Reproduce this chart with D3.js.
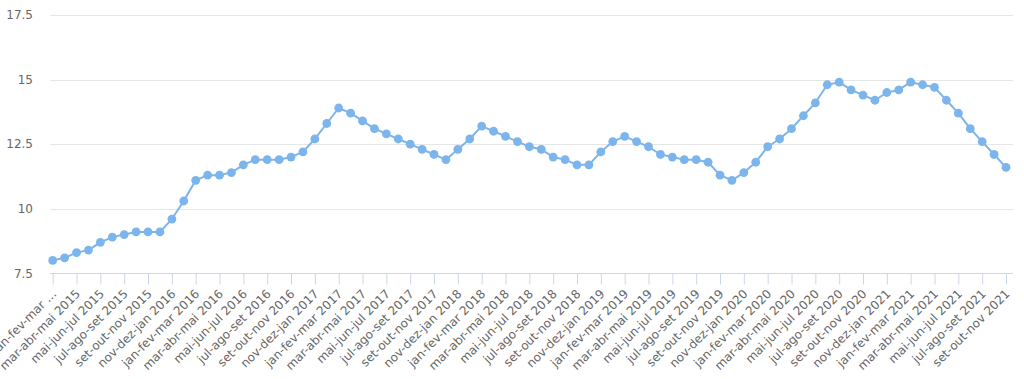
<!DOCTYPE html>
<html>
<head>
<meta charset="utf-8">
<script src="https://cdn.jsdelivr.net/npm/d3@7"></script>
<style>
  html, body { margin: 0; padding: 0; background: #ffffff; }
  svg { display: block; }
  text { font-family: "DejaVu Sans", "Lucida Grande", sans-serif; }
</style>
</head>
<body>
<svg id="chart" width="1024" height="379"></svg>
<script>
// ---- data ----
const categories = [
  "jan-fev-mar 2015","fev-mar-abr 2015","mar-abr-mai 2015","abr-mai-jun 2015","mai-jun-jul 2015","jun-jul-ago 2015",
  "jul-ago-set 2015","ago-set-out 2015","set-out-nov 2015","out-nov-dez 2015","nov-dez-jan 2016","dez-jan-fev 2016",
  "jan-fev-mar 2016","fev-mar-abr 2016","mar-abr-mai 2016","abr-mai-jun 2016","mai-jun-jul 2016","jun-jul-ago 2016",
  "jul-ago-set 2016","ago-set-out 2016","set-out-nov 2016","out-nov-dez 2016","nov-dez-jan 2017","dez-jan-fev 2017",
  "jan-fev-mar 2017","fev-mar-abr 2017","mar-abr-mai 2017","abr-mai-jun 2017","mai-jun-jul 2017","jun-jul-ago 2017",
  "jul-ago-set 2017","ago-set-out 2017","set-out-nov 2017","out-nov-dez 2017","nov-dez-jan 2018","dez-jan-fev 2018",
  "jan-fev-mar 2018","fev-mar-abr 2018","mar-abr-mai 2018","abr-mai-jun 2018","mai-jun-jul 2018","jun-jul-ago 2018",
  "jul-ago-set 2018","ago-set-out 2018","set-out-nov 2018","out-nov-dez 2018","nov-dez-jan 2019","dez-jan-fev 2019",
  "jan-fev-mar 2019","fev-mar-abr 2019","mar-abr-mai 2019","abr-mai-jun 2019","mai-jun-jul 2019","jun-jul-ago 2019",
  "jul-ago-set 2019","ago-set-out 2019","set-out-nov 2019","out-nov-dez 2019","nov-dez-jan 2020","dez-jan-fev 2020",
  "jan-fev-mar 2020","fev-mar-abr 2020","mar-abr-mai 2020","abr-mai-jun 2020","mai-jun-jul 2020","jun-jul-ago 2020",
  "jul-ago-set 2020","ago-set-out 2020","set-out-nov 2020","out-nov-dez 2020","nov-dez-jan 2021","dez-jan-fev 2021",
  "jan-fev-mar 2021","fev-mar-abr 2021","mar-abr-mai 2021","abr-mai-jun 2021","mai-jun-jul 2021","jun-jul-ago 2021",
  "jul-ago-set 2021","ago-set-out 2021","set-out-nov 2021"
];

const rates = [
  8.0, 8.1, 8.3, 8.4, 8.7, 8.9, 9.0, 9.1, 9.1, 9.1, 9.6, 10.3,
  11.1, 11.3, 11.3, 11.4, 11.7, 11.9, 11.9, 11.9, 12.0, 12.2, 12.7, 13.3,
  13.9, 13.7, 13.4, 13.1, 12.9, 12.7, 12.5, 12.3, 12.1, 11.9, 12.3, 12.7,
  13.2, 13.0, 12.8, 12.6, 12.4, 12.3, 12.0, 11.9, 11.7, 11.7, 12.2, 12.6,
  12.8, 12.6, 12.4, 12.1, 12.0, 11.9, 11.9, 11.8, 11.3, 11.1, 11.4, 11.8,
  12.4, 12.7, 13.1, 13.6, 14.1, 14.8, 14.9, 14.6, 14.4, 14.2, 14.5, 14.6,
  14.9, 14.8, 14.7, 14.2, 13.7, 13.1, 12.6, 12.1, 11.6
];

const yTicks = [7.5, 10, 12.5, 15, 17.5];
const yTickLabels = ["7.5", "10", "12.5", "15", "17.5"];
// label shown shortened (as in the original, where it ran off the left edge)
const labelOverrides = { "jan-fev-mar 2015": "jan-fev-mar \u2026" };

// ---- layout ----
const plotLeft = 50, plotRight = 1013, plotTop = 15, plotBottom = 273.3;
const svg = d3.select("#chart");

const x = d3.scalePoint().domain(categories).range([52.7, 1006]);
const y = d3.scaleLinear().domain([7.5, 17.5]).range([plotBottom, plotTop]);

// gridlines
svg.append("g")
  .selectAll("line")
  .data(yTicks.filter(t => t !== 7.5))
  .join("line")
  .attr("x1", plotLeft).attr("x2", plotRight)
  .attr("y1", d => Math.round(y(d)) + 0.5).attr("y2", d => Math.round(y(d)) + 0.5)
  .attr("stroke", "#e6e6e6").attr("stroke-width", 1);

// y axis labels
svg.append("g")
  .selectAll("text")
  .data(yTicks)
  .join("text")
  .attr("x", 33)
  .attr("y", d => y(d))
  .attr("dy", "0.35em")
  .attr("text-anchor", "end")
  .attr("fill", "#666666")
  .attr("font-size", 12)
  .text((d, i) => yTickLabels[i]);

// x axis
const tickCats = categories.filter((c, i) => i % 2 === 0);
const xAxis = d3.axisBottom(x)
  .tickValues(tickCats)
  .tickSize(11)
  .tickSizeOuter(0)
  .tickFormat(d => labelOverrides[d] || d);

const gx = svg.append("g")
  .attr("transform", `translate(0,${Math.round(plotBottom) + 0.5})`)
  .call(xAxis);
gx.select(".domain").remove();
gx.append("line")
  .attr("x1", plotLeft).attr("x2", plotRight)
  .attr("y1", 0).attr("y2", 0)
  .attr("stroke", "#ccd6eb").attr("stroke-width", 1);
gx.selectAll(".tick line").attr("stroke", "#ccd6eb");
gx.selectAll(".tick text")
  .attr("fill", "#666666")
  .attr("font-size", 12)
  .attr("font-family", "DejaVu Sans, sans-serif")
  .attr("text-anchor", "end")
  .attr("x", 0).attr("y", 0).attr("dy", 0)
  .attr("transform", "translate(4,21) rotate(-45)");

// line
const line = d3.line()
  .x((d, i) => x(categories[i]))
  .y(d => y(d));

svg.append("path")
  .datum(rates)
  .attr("d", line)
  .attr("fill", "none")
  .attr("stroke", "#7cb5ec")
  .attr("stroke-width", 2)
  .attr("stroke-linejoin", "round")
  .attr("stroke-linecap", "round");

// markers
svg.append("g")
  .selectAll("circle")
  .data(rates)
  .join("circle")
  .attr("cx", (d, i) => x(categories[i]))
  .attr("cy", d => y(d))
  .attr("r", 4.4)
  .attr("fill", "#7cb5ec");
</script>
</body>
</html>
